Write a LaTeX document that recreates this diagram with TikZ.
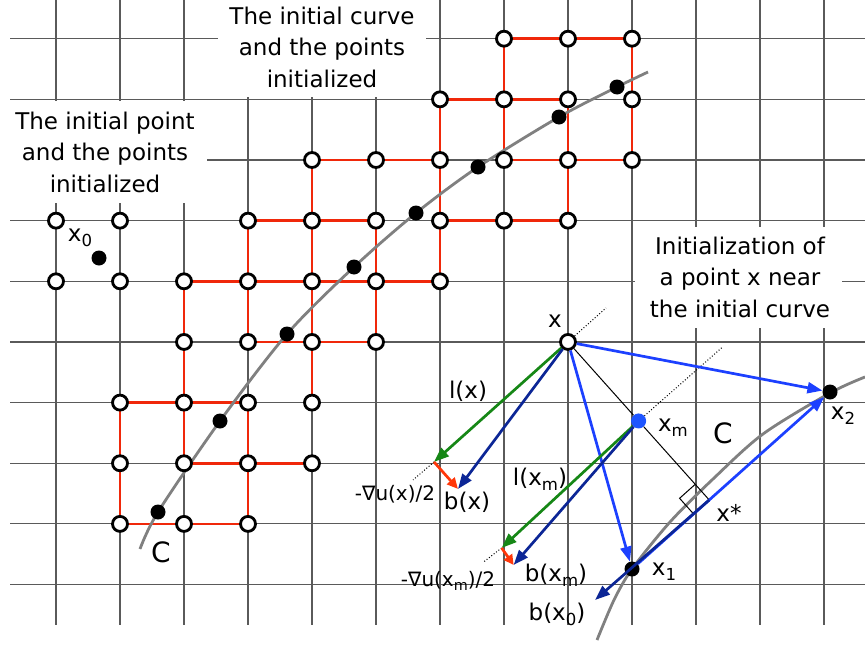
\documentclass[tikz,border=0pt]{standalone}
\usepackage{fontspec}
\setmainfont{DejaVu Sans}
\usepackage{graphicx}
\usetikzlibrary{arrows.meta,calc}
\definecolor{gridc}{RGB}{90,90,90}
\definecolor{redc}{RGB}{240,40,10}
\definecolor{curvec}{RGB}{128,128,128}
\definecolor{bluec}{RGB}{28,64,255}
\definecolor{navyc}{RGB}{12,38,150}
\definecolor{greenc}{RGB}{22,135,22}
\definecolor{redarr}{RGB}{255,55,10}
\definecolor{xmc}{RGB}{30,85,255}
\newcommand\lsb[1]{\raisebox{-0.4ex}{\scalebox{0.72}{#1}}}
\begin{document}
\begin{tikzpicture}[x=1pt,y=-1pt,
  gridline/.style={draw=gridc,line width=1.1pt},
  rededge/.style={draw=redc,line width=2.5pt},
  curveline/.style={draw=curvec,line width=2.8pt},
  opendot/.style={circle,draw=black,fill=white,line width=2.8pt,inner sep=0pt,minimum size=15pt},
  blackdot/.style={circle,fill=black,inner sep=0pt,minimum size=15pt},
  bluedot/.style={circle,fill=xmc,inner sep=0pt,minimum size=15pt},
  arr/.style={line width=2.7pt,-{Triangle[length=15pt,width=11pt]}},
  smallarr/.style={line width=2.7pt,-{Triangle[length=11pt,width=10pt]}},
  dotline/.style={draw=black,dotted,line width=1pt},
  bigtext/.style={align=center,font=\fontsize{23}{31.5}\selectfont,inner sep=0pt},
  lbl/.style={font=\fontsize{23}{26}\selectfont,inner sep=0pt},
  slbl/.style={font=\fontsize{20}{23}\selectfont,inner sep=0pt},
  clbl/.style={font=\fontsize{28}{30}\selectfont,inner sep=0pt}]
\useasboundingbox (0,0) rectangle (865,645);
\fill[white] (0,0) rectangle (865,645);
% grid
\foreach \i in {0,...,12}{\draw[gridline] ({56+64*\i},0) -- ({56+64*\i},625);}
\foreach \j in {0,...,9}{\draw[gridline] (10,{38.7+60.65*\j}) -- (865,{38.7+60.65*\j});}
\foreach \i in {0,...,12}{\foreach \j in {0,...,9}{\coordinate (g\i-\j) at ({56+64*\i},{38.7+60.65*\j});}}
% text masks
\fill[white] (218,0) rectangle (426,97);
\fill[white] (0,101) rectangle (207,203);
\fill[white] (635,227) rectangle (842,328);
\node[bigtext] (t1) at (322,47) {The initial curve\\and the points\\initialized};
\node[bigtext] (t2) at (105,152) {The initial point\\and the points\\initialized};
\node[bigtext] (t3) at (740,277) {Initialization of\\a point x near\\the initial curve};
% red edges
\foreach \j/\a/\b in {0/7/9,1/6/8,2/4/6,2/7/9,3/3/5,3/6/8,4/2/6,5/3/5,6/1/3,7/2/4,8/1/3}
  {\draw[rededge] (g\a-\j) -- (g\b-\j);}
\foreach \i/\a/\b in {1/6/8,2/4/7,3/3/5,3/6/8,4/2/6,5/3/5,6/1/4,7/0/2,8/1/3,9/0/2}
  {\draw[rededge] (g\i-\a) -- (g\i-\b);}
% curves
\draw[curveline] plot[smooth] coordinates {(140,549) (158,512) (220,421) (287,334) (354,267) (416,213) (478,167) (559,117) (617,87) (648,72)};
\draw[curveline] plot[smooth] coordinates {(597,640) (614,600) (632,569) (670,522) (713,479) (763,434) (830,393) (865,377)};
% open circles
\foreach \j/\cs in {0/{7,8,9},1/{6,7,8,9},2/{4,5,6,7,8,9},3/{0,1,3,4,5,6,7,8},4/{0,1,2,3,4,5,6},5/{2,3,4,5,8},6/{1,2,3,4},7/{1,2,3,4},8/{1,2,3}}
  {\foreach \i in \cs {\node[opendot] (p\i-\j) at (g\i-\j) {};}}
% black dots on the curve
\node[blackdot] (d0) at (99,258) {};
\node[blackdot] (d1) at (158,512) {};
\node[blackdot] (d2) at (220,421) {};
\node[blackdot] (d3) at (287,334) {};
\node[blackdot] (d4) at (354,267) {};
\node[blackdot] (d5) at (416,213) {};
\node[blackdot] (d6) at (478,167) {};
\node[blackdot] (d7) at (559,117) {};
\node[blackdot] (d8) at (617,87) {};
\node[lbl] (lx0) at (80,238) {x\lsb{0}};
\node[clbl] (lC1) at (161,552) {C};
% construction near x
\node[blackdot] (x1) at (632,569) {};
\node[blackdot] (x2) at (830,392) {};
\coordinate (xs) at ($(x1)!(p8-5)!(x2)$);
\node[bluedot] (xm) at ($(p8-5)!0.5!(xs)$) {};
\draw[black,line width=1pt] (p8-5) -- (xm) -- (xs);
\coordinate (ra) at ($(xs)!21pt!(p8-5)$);
\coordinate (rb) at ($(xs)!21pt!(x1)$);
\draw[black,line width=1pt] (ra) -- ($(ra)+(rb)-(xs)$) -- (rb);
\coordinate (dxe) at ($(p8-5)+(38,-34)$);
\coordinate (dxme) at ($(xm)+(84,-74)$);
\draw[dotline] (p8-5) -- (dxe);
\draw[dotline] (xm) -- (dxme);
\coordinate (lx) at ($(p8-5)+(-134,120)$);
\coordinate (bx) at ($(lx)+(24,27)$);
\coordinate (lxm) at ($(xm)+(-137,127)$);
\coordinate (bxm) at ($(lxm)+(12,17)$);
\coordinate (bx0) at (595,600);
\coordinate (dlx) at ($(lx)+(-21,18)$);
\coordinate (dlxm) at ($(lxm)+(-18,14)$);
\draw[dotline] (lx) -- (dlx);
\draw[dotline] (lxm) -- (dlxm);
\draw[arr,draw=bluec,-{Triangle[length=15pt,width=11pt,fill=bluec]}] (p8-5) -- (x2);
\draw[arr,draw=bluec,-{Triangle[length=15pt,width=11pt,fill=bluec]}] (p8-5) -- (x1);
\draw[arr,draw=bluec,-{Triangle[length=15pt,width=11pt,fill=bluec]}] (x1) -- (x2);
\draw[arr,draw=greenc,-{Triangle[length=15pt,width=11pt,fill=greenc]}] (p8-5) -- (lx);
\draw[arr,draw=navyc,-{Triangle[length=15pt,width=11pt,fill=navyc]}] (p8-5) -- (bx);
\draw[smallarr,draw=redarr,-{Triangle[length=11pt,width=10pt,fill=redarr]}] (lx) -- (bx);
\draw[arr,draw=greenc,-{Triangle[length=15pt,width=11pt,fill=greenc]}] (xm) -- (lxm);
\draw[arr,draw=navyc,-{Triangle[length=15pt,width=11pt,fill=navyc]}] (xm) -- (bxm);
\draw[smallarr,draw=redarr,-{Triangle[length=10pt,width=10pt,fill=redarr]}] (lxm) -- (bxm);
\draw[arr,draw=navyc,-{Triangle[length=15pt,width=11pt,fill=navyc]}] (xs) -- (bx0);
% labels
\node[lbl] (lbx) at (555,321) {x};
\node[lbl] (llx) at (468,391) {l(x)};
\node[lbl] (lbbx) at (467,502) {b(x)};
\node[slbl] (lgx) at (395,494) {-∇u(x)/2};
\node[lbl] (llxm) at (540,479) {l(x\lsb{m})};
\node[lbl] (lbxm) at (556,575) {b(x\lsb{m})};
\node[slbl] (lgxm) at (448,581) {-∇u(x\lsb{m})/2};
\node[lbl] (lbx0) at (557,614) {b(x\lsb{0})};
\node[lbl] (lxmn) at (673,428) {x\lsb{m}};
\node[lbl] (lx1) at (664,572) {x\lsb{1}};
\node[lbl] (lx2) at (843,416) {x\lsb{2}};
\node[lbl] (lxs) at (729,513) {x*};
\node[clbl] (lC2) at (723,433) {C};
\end{tikzpicture}
\end{document}
